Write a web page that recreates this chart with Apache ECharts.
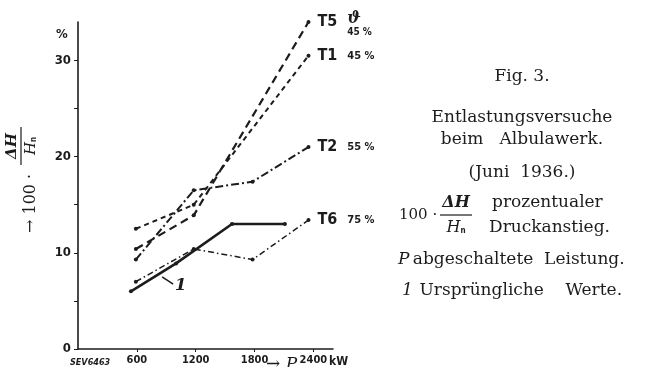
<!DOCTYPE html>
<html>
<head>
<meta charset="utf-8">
<title>Entlastungsversuche Albulawerk</title>
<script src="https://cdn.jsdelivr.net/npm/echarts@6.0.0/dist/echarts.min.js"></script>
<style>
  html, body { margin: 0; padding: 0; background: #fff; }
  #chart { width: 647px; height: 367px; }
</style>
</head>
<body>
<div id="chart"></div>
<script>
// abgeschaltete Leistung P (kW) und Druckanstieg 100*dH/Hn (%)
const t5Power = [590, 1180, 2350]
const t5Rise = [10.4, 13.9, 34.0]
const t1Power = [590, 1180, 2350]
const t1Rise = [12.5, 15.0, 30.5]
const t2Power = [590, 1180, 1780, 2350]
const t2Rise = [9.3, 16.5, 17.4, 21.0]
const t6Power = [590, 1180, 1780, 2350]
const t6Rise = [7.0, 10.4, 9.3, 13.4]
// Kurve 1: ursprüngliche Werte
const origPower = [540, 1000, 1570, 2110]
const origRise = [6.0, 8.9, 13.0, 13.0]
const origLeader = [[858, 7.5], [970, 6.75]]

const xTicks = [600, 1200, 1800, 2400]
const yTicks = [0, 5, 10, 15, 20, 25, 30]
const yLabels = [0, 10, 20, 30]

const ink = '#1c1c1c'
const sansBold = '"DejaVu Sans Condensed", "Liberation Sans Narrow", sans-serif'
const serif = '"DejaVu Serif", "Liberation Serif", serif'

const pairs = (xs, ys) => xs.map((x, i) => [x, ys[i]])

const endLabel = (name, pct) => ({
  show: true,
  distance: 9,
  formatter: () => (pct ? `{t|${name}}   {p|${pct}}` : `{t|${name}}`),
  rich: {
    t: { fontFamily: sansBold, fontWeight: 'bold', fontSize: 16, color: ink },
    p: { fontFamily: sansBold, fontWeight: 'bold', fontSize: 11, color: ink }
  }
})

const lineSeries = (name, data, type, width, pct, withLabel) => ({
  name,
  type: 'line',
  data,
  clip: false,
  symbol: 'circle',
  symbolSize: 4,
  itemStyle: { color: ink },
  lineStyle: { color: ink, width, type },
  endLabel: withLabel ? endLabel(name, pct) : { show: false },
  animation: false
})

const chart = echarts.init(document.getElementById('chart'))

const t5 = lineSeries('T5', pairs(t5Power, t5Rise), [8, 5], 2.2, null, true)
t5.markPoint = {
  symbol: 'circle',
  symbolSize: 1,
  itemStyle: { color: 'rgba(0,0,0,0)' },
  data: [{ type: 'max', valueDim: 'y' }],
  label: {
    show: true,
    position: 'inside',
    offset: [51, 3],
    formatter: '{s|ϑ}\n{p|45 %}',
    rich: {
      s: { fontFamily: serif, fontStyle: 'italic', fontWeight: 'bold', fontSize: 16, color: ink, lineHeight: 15, align: 'left' },
      p: { fontFamily: sansBold, fontWeight: 'bold', fontSize: 10, color: ink, lineHeight: 12 }
    }
  }
}

const orig = lineSeries('1', pairs(origPower, origRise), 'solid', 2.6, null, false)
orig.markLine = {
  silent: true,
  symbol: 'none',
  animation: false,
  lineStyle: { color: ink, width: 1.5, type: 'solid' },
  label: {
    show: true,
    position: 'end',
    distance: 2,
    formatter: '1',
    fontFamily: serif,
    fontStyle: 'italic',
    fontWeight: 'bold',
    fontSize: 17,
    color: ink
  },
  data: [[{ coord: origLeader[0] }, { coord: origLeader[1] }]]
}

const option = {
  backgroundColor: '#fff',
  animation: false,
  grid: { left: 78, right: 314, top: 22, bottom: 18 },
  xAxis: {
    type: 'value',
    min: 0,
    max: 2600,
    axisLine: { show: true, lineStyle: { color: ink, width: 1.6 } },
    axisTick: { show: true, customValues: xTicks, length: 3, lineStyle: { color: ink } },
    axisLabel: {
      customValues: xTicks,
      formatter: (v) => String(v),
      margin: 6,
      color: ink,
      fontFamily: sansBold,
      fontWeight: 'bold',
      fontSize: 11
    },
    splitLine: { show: false }
  },
  yAxis: {
    type: 'value',
    min: 0,
    max: 34,
    axisLine: { show: true, lineStyle: { color: ink, width: 1.6 } },
    axisTick: { show: true, customValues: yTicks, length: 4, lineStyle: { color: ink } },
    axisLabel: {
      customValues: yLabels,
      margin: 7,
      color: ink,
      fontFamily: sansBold,
      fontWeight: 'bold',
      fontSize: 13
    },
    splitLine: { show: false }
  },
  series: [
    t5,
    lineSeries('T1', pairs(t1Power, t1Rise), [5, 4], 2, '45 %', true),
    lineSeries('T2', pairs(t2Power, t2Rise), [8, 3, 2, 3], 2, '55 %', true),
    lineSeries('T6', pairs(t6Power, t6Rise), [6, 3, 1.5, 3], 1.5, '75 %', true),
    orig
  ],
  graphic: [
    // Achsenbeschriftungen
    { type: 'text', x: 56, y: 35, style: { text: '%', font: 'bold 13px ' + sansBold, fill: ink, verticalAlign: 'middle' } },
    { type: 'text', x: 70, y: 363, style: { text: 'SEV6463', font: 'italic bold 9px ' + sansBold, fill: ink, verticalAlign: 'middle' } },
    { type: 'text', x: 266, y: 365, style: { text: '→ P', font: 'italic 17px ' + serif, fill: ink, verticalAlign: 'middle' } },
    { type: 'text', x: 329, y: 362, style: { text: 'kW', font: 'bold 12px ' + sansBold, fill: ink, verticalAlign: 'middle' } },
    {
      type: 'group',
      x: 31,
      y: 233,
      rotation: Math.PI / 2,
      children: [
        { type: 'text', x: 0, y: 0, style: { text: '→ 100 ·', font: '16px ' + serif, fill: ink, verticalAlign: 'middle' } },
        { type: 'text', x: 87, y: -19, style: { text: 'ΔH', font: 'italic bold 15px ' + serif, fill: ink, align: 'center', verticalAlign: 'middle' } },
        { type: 'line', shape: { x1: 68, y1: -10, x2: 106, y2: -10 }, style: { stroke: ink, lineWidth: 1.2 } },
        {
          type: 'text', x: 87, y: 0,
          style: {
            text: '{h|H}{n|n}', align: 'center', verticalAlign: 'middle', fill: ink,
            rich: { h: { font: 'italic 15px ' + serif, fill: ink }, n: { font: 'bold 8px ' + sansBold, fill: ink, padding: [6, 0, 0, 0] } }
          }
        }
      ]
    },
    // Legende rechts
    { type: 'text', x: 522, y: 77, style: { text: 'Fig. 3.', font: '17px ' + serif, fill: ink, align: 'center', verticalAlign: 'middle' } },
    { type: 'text', x: 522, y: 118, style: { text: 'Entlastungsversuche', font: '17px ' + serif, fill: ink, align: 'center', verticalAlign: 'middle' } },
    { type: 'text', x: 522, y: 140, style: { text: 'beim   Albulawerk.', font: '17px ' + serif, fill: ink, align: 'center', verticalAlign: 'middle' } },
    { type: 'text', x: 522, y: 173, style: { text: '(Juni  1936.)', font: '17px ' + serif, fill: ink, align: 'center', verticalAlign: 'middle' } },
    { type: 'text', x: 399, y: 215, style: { text: '100 ·', font: '15px ' + serif, fill: ink, verticalAlign: 'middle' } },
    { type: 'text', x: 456, y: 203, style: { text: 'ΔH', font: 'italic bold 16px ' + serif, fill: ink, align: 'center', verticalAlign: 'middle' } },
    { type: 'line', shape: { x1: 440, y1: 215, x2: 472, y2: 215 }, style: { stroke: ink, lineWidth: 1.2 } },
    {
      type: 'text', x: 456, y: 228,
      style: {
        text: '{h|H}{n|n}', align: 'center', verticalAlign: 'middle', fill: ink,
        rich: { h: { font: 'italic 16px ' + serif, fill: ink }, n: { font: 'bold 8px ' + sansBold, fill: ink, padding: [6, 0, 0, 0] } }
      }
    },
    { type: 'text', x: 492, y: 203, style: { text: 'prozentualer', font: '17px ' + serif, fill: ink, verticalAlign: 'middle' } },
    { type: 'text', x: 489, y: 228, style: { text: 'Druckanstieg.', font: '17px ' + serif, fill: ink, verticalAlign: 'middle' } },
    {
      type: 'text', x: 398, y: 260,
      style: {
        text: '{i|P} {r|abgeschaltete  Leistung.}', verticalAlign: 'middle', fill: ink,
        rich: { i: { font: 'italic 17px ' + serif, fill: ink }, r: { font: '17px ' + serif, fill: ink } }
      }
    },
    {
      type: 'text', x: 402, y: 291,
      style: {
        text: '{i|1}  {r|Ursprüngliche    Werte.}', verticalAlign: 'middle', fill: ink,
        rich: { i: { font: 'italic 17px ' + serif, fill: ink }, r: { font: '17px ' + serif, fill: ink } }
      }
    }
  ]
}

chart.setOption(option)
window.addEventListener('resize', () => chart.resize())
</script>
</body>
</html>
